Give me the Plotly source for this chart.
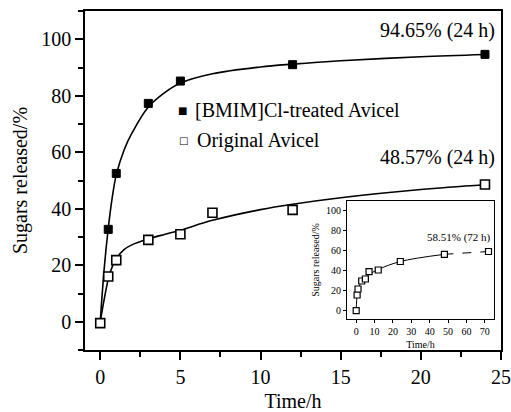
import plotly.graph_objects as go

# ---- data ----
t_main = [0, 0.5, 1, 3, 5, 12, 24]
treated = [-0.5, 32.7, 52.5, 77.3, 85.2, 91.0, 94.65]

t_orig = [0, 0.5, 1, 3, 5, 7, 12, 24]
original = [-0.5, 16.0, 21.8, 29.0, 31.0, 38.6, 39.6, 48.57]

# fitted curves
t_fit = [0, 0.25, 0.5, 0.75, 1, 1.5, 2, 3, 4, 5, 7, 10, 12, 15, 20, 24]
treated_fit = [0, 19, 33, 44, 52, 61, 67, 76, 81, 84.5, 87.8, 90.2, 91.2, 92.4, 93.8, 94.6]
original_fit = [0, 8, 15, 19.5, 22.3, 25.6, 27.3, 29.3, 30.9, 32.4, 35.9, 39.7, 41.6, 43.9, 46.8, 48.5]

# inset (72 h)
t_inset = [0, 0.5, 1, 3, 5, 7, 12, 24, 48, 72]
inset_vals = [-0.7, 15, 21, 29, 31, 38.3, 40, 48.5, 55.7, 58.51]
t_inset_solid = [0, 0.5, 1, 3, 5, 7, 12, 24, 48]
inset_solid = [0, 15, 21, 28.5, 32, 35.5, 40.5, 48.5, 55.7]
t_inset_dash = [48, 72]
inset_dash = [55.7, 58.51]

x_ticks = [0, 5, 10, 15, 20, 25]
y_ticks = [0, 20, 40, 60, 80, 100]
inset_x_ticks = [0, 10, 20, 30, 40, 50, 60, 70]
inset_y_ticks = [0, 20, 40, 60, 80, 100]

FONT = "Liberation Serif, Times New Roman, Times, serif"
fig = go.Figure()

fig.add_trace(go.Scatter(x=t_fit, y=treated_fit, mode="lines", line=dict(color="black", width=1.6, shape="spline"),
                         showlegend=False, hoverinfo="skip"))
fig.add_trace(go.Scatter(x=t_fit, y=original_fit, mode="lines", line=dict(color="black", width=1.6, shape="spline"),
                         showlegend=False, hoverinfo="skip"))
fig.add_trace(go.Scatter(x=t_main, y=treated, mode="markers",
                         marker=dict(symbol="square", size=8, color="black", line=dict(color="black", width=1)),
                         name="[BMIM]Cl-treated Avicel", showlegend=False))
fig.add_trace(go.Scatter(x=t_orig, y=original, mode="markers",
                         marker=dict(symbol="square", size=9, color="white", line=dict(color="black", width=1.6)),
                         name="Original Avicel", showlegend=False))

# inset
fig.add_trace(go.Scatter(x=t_inset_solid, y=inset_solid, mode="lines", xaxis="x2", yaxis="y2",
                         line=dict(color="black", width=1, shape="spline"), showlegend=False, hoverinfo="skip"))
fig.add_trace(go.Scatter(x=t_inset_dash, y=inset_dash, mode="lines", xaxis="x2", yaxis="y2",
                         line=dict(color="black", width=1, dash="dash"), showlegend=False, hoverinfo="skip"))
fig.add_trace(go.Scatter(x=t_inset, y=inset_vals, mode="markers", xaxis="x2", yaxis="y2",
                         marker=dict(symbol="square", size=6, color="white", line=dict(color="black", width=1.2)),
                         showlegend=False))

axis_common = dict(showgrid=False, zeroline=False, showline=True, linecolor="black", linewidth=1.5,
                   mirror=True, ticks="outside", ticklen=8, tickwidth=1.5, tickcolor="black", automargin=False,
                   tickfont=dict(family=FONT, size=20, color="black"))

fig.update_layout(
    width=511, height=412,
    margin=dict(l=85, r=10, t=11, b=62),
    plot_bgcolor="white", paper_bgcolor="white",
    font=dict(family=FONT, color="black"),
    xaxis=dict(range=[-0.95, 25], tickvals=x_ticks,
               minor=dict(dtick=2.5, tick0=0, ticklen=5, tickwidth=1.5, tickcolor="black", ticks="outside"),
               title=dict(text="Time/h", font=dict(family=FONT, size=20), standoff=12),
               **axis_common),
    yaxis=dict(range=[-10, 110], tickvals=y_ticks,
               minor=dict(dtick=10, tick0=0, ticklen=5, tickwidth=1.5, tickcolor="black", ticks="outside"),
               title=dict(text="Sugars released/%", font=dict(family=FONT, size=20), standoff=8),
               **axis_common),
    xaxis2=dict(domain=[0.6298, 0.9832], anchor="y2", range=[-5, 75], tickvals=inset_x_ticks,
                showgrid=False, zeroline=False, showline=True, linecolor="black", linewidth=1, mirror=True,
                ticks="outside", ticklen=3, tickwidth=1, tickcolor="black", automargin=False,
                tickfont=dict(family=FONT, size=10, color="black"),
                title=dict(text="Time/h", font=dict(family=FONT, size=10), standoff=4)),
    yaxis2=dict(domain=[0.0914, 0.4395], anchor="x2", range=[-9, 109], tickvals=inset_y_ticks,
                showgrid=False, zeroline=False, showline=True, linecolor="black", linewidth=1, mirror=True,
                ticks="outside", ticklen=3, tickwidth=1, tickcolor="black", automargin=False,
                tickfont=dict(family=FONT, size=10, color="black"),
                title=dict(text="Sugars released/%", font=dict(family=FONT, size=10), standoff=4)),
)

annos = [
    dict(x=24.75, y=103, xref="x", yref="y", text="94.65% (24 h)", xanchor="right", yanchor="middle",
         showarrow=False, font=dict(family=FONT, size=20, color="black")),
    dict(x=24.75, y=58, xref="x", yref="y", text="48.57% (24 h)", xanchor="right", yanchor="middle",
         showarrow=False, font=dict(family=FONT, size=20, color="black")),
    dict(x=56, y=73, xref="x2", yref="y2", text="58.51% (72 h)", xanchor="center", yanchor="middle",
         showarrow=False, font=dict(family=FONT, size=11, color="black")),
    # legend
    dict(x=0.2344, y=0.7065, xref="paper", yref="paper", text="■", xanchor="center", yanchor="middle",
         showarrow=False, font=dict(family="DejaVu Sans", size=10, color="black")),
    dict(x=0.2596, y=0.7065, xref="paper", yref="paper", text="[BMIM]Cl-treated Avicel", xanchor="left",
         yanchor="middle", showarrow=False, font=dict(family=FONT, size=20, color="black")),
    dict(x=0.2368, y=0.618, xref="paper", yref="paper", text="□", xanchor="center", yanchor="middle",
         showarrow=False, font=dict(family="DejaVu Sans", size=10, color="black")),
    dict(x=0.2644, y=0.618, xref="paper", yref="paper", text="Original Avicel", xanchor="left",
         yanchor="middle", showarrow=False, font=dict(family=FONT, size=20, color="black")),
]
fig.update_layout(annotations=annos)

fig.write_html("out.html")
